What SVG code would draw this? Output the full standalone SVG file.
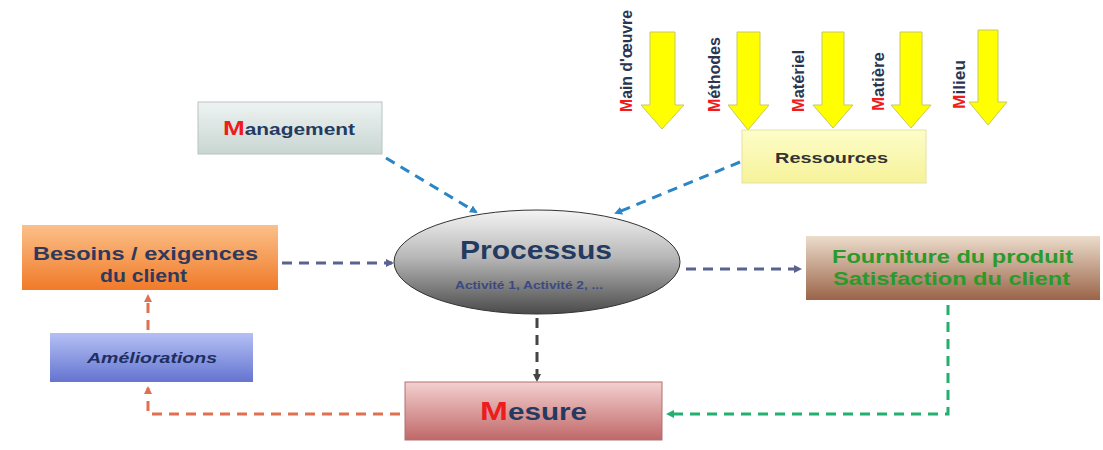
<svg xmlns="http://www.w3.org/2000/svg" width="1103" height="450" viewBox="0 0 1103 450">
<style>
text{font-family:"Liberation Sans",Arial,sans-serif;font-weight:bold}
.navy{fill:#243a60}
.red{fill:#ee1c1c}
.dash{fill:none;stroke-width:3;stroke-dasharray:10,7}
.yarrow{fill:#ffff00;stroke:#c8c860;stroke-width:1}
.vlabel{font-size:16px;fill:#2a3550}
</style>
<defs>
<linearGradient id="gMan" x1="0" y1="0" x2="0" y2="1"><stop offset="0" stop-color="#eef3f2"/><stop offset="1" stop-color="#c8d6d2"/></linearGradient>
<linearGradient id="gRes" x1="0" y1="0" x2="0" y2="1"><stop offset="0" stop-color="#fdfdc8"/><stop offset="1" stop-color="#f6f29a"/></linearGradient>
<linearGradient id="gBes" x1="0" y1="0" x2="0" y2="1"><stop offset="0" stop-color="#fbc08a"/><stop offset="1" stop-color="#f07a28"/></linearGradient>
<linearGradient id="gAme" x1="0" y1="0" x2="0" y2="1"><stop offset="0" stop-color="#b4c0f4"/><stop offset="1" stop-color="#6474d0"/></linearGradient>
<linearGradient id="gFou" x1="0" y1="0" x2="0" y2="1"><stop offset="0" stop-color="#ecdccc"/><stop offset="1" stop-color="#9a6448"/></linearGradient>
<linearGradient id="gMes" x1="0" y1="0" x2="0" y2="1"><stop offset="0" stop-color="#f4d0d0"/><stop offset="1" stop-color="#c06868"/></linearGradient>
<linearGradient id="gPro" x1="0" y1="0" x2="0" y2="1"><stop offset="0" stop-color="#f4f4f4"/><stop offset="0.45" stop-color="#b8b8b8"/><stop offset="1" stop-color="#4a4a4a"/></linearGradient>
<marker id="aBlue" markerWidth="8" markerHeight="8" refX="6" refY="4" orient="auto" markerUnits="userSpaceOnUse"><path d="M0,0 L8,4 L0,8 z" fill="#2a86c4"/></marker>
<marker id="aGrey" markerWidth="8" markerHeight="8" refX="6" refY="4" orient="auto" markerUnits="userSpaceOnUse"><path d="M0,0 L8,4 L0,8 z" fill="#5a6290"/></marker>
<marker id="aDark" markerWidth="8" markerHeight="8" refX="6" refY="4" orient="auto" markerUnits="userSpaceOnUse"><path d="M0,0 L8,4 L0,8 z" fill="#444"/></marker>
<marker id="aGreen" markerWidth="8" markerHeight="8" refX="6" refY="4" orient="auto" markerUnits="userSpaceOnUse"><path d="M0,0 L8,4 L0,8 z" fill="#22b070"/></marker>
<marker id="aOrange" markerWidth="8" markerHeight="8" refX="6" refY="4" orient="auto" markerUnits="userSpaceOnUse"><path d="M0,0 L8,4 L0,8 z" fill="#e07050"/></marker>
</defs>
<rect width="1103" height="450" fill="#ffffff"/>

<g id="connectors">
<path class="dash" stroke="#2a86c4" d="M386,158 L476,212" marker-end="url(#aBlue)"/>
<path class="dash" stroke="#2a86c4" d="M740,162 L616,213" marker-end="url(#aBlue)"/>
<path class="dash" stroke="#5a6290" d="M282,263 L392,263" marker-end="url(#aGrey)"/>
<path class="dash" stroke="#5a6290" d="M686,269 L800,269" marker-end="url(#aGrey)"/>
<path class="dash" stroke="#444" d="M537,318 L537,380" marker-end="url(#aDark)"/>
<path class="dash" stroke="#22b070" d="M948,305 L948,414 L668,414" marker-end="url(#aGreen)"/>
<path class="dash" stroke="#e07050" d="M400,414 L148,414 L148,388" marker-end="url(#aOrange)"/>
<path class="dash" stroke="#e07050" d="M148,330 L148,296" marker-end="url(#aOrange)"/>
</g>

<g id="resource-arrows">
<polygon class="yarrow" points="650,32 675,32 675,105 684,105 662,129 641,105 650,105"/>
<polygon class="yarrow" points="737,32 760,32 760,105 769,105 748,130 728,105 737,105"/>
<polygon class="yarrow" points="822,32 844,32 844,105 853,105 833,128 813,105 822,105"/>
<polygon class="yarrow" points="900,32 922,32 922,105 931,105 911,128 891,105 900,105"/>
<polygon class="yarrow" points="978,30 998,30 998,102 1007,102 988,125 969,102 978,102"/>
<text class="vlabel" transform="translate(632,112) rotate(-90)" textLength="102" lengthAdjust="spacingAndGlyphs"><tspan class="red">M</tspan>ain d'œuvre</text>
<text class="vlabel" transform="translate(720,112) rotate(-90)" textLength="75" lengthAdjust="spacingAndGlyphs"><tspan class="red">M</tspan>éthodes</text>
<text class="vlabel" transform="translate(804,112) rotate(-90)" textLength="62" lengthAdjust="spacingAndGlyphs"><tspan class="red">M</tspan>atériel</text>
<text class="vlabel" transform="translate(884,111) rotate(-90)" textLength="59" lengthAdjust="spacingAndGlyphs"><tspan class="red">M</tspan>atière</text>
<text class="vlabel" transform="translate(965,109) rotate(-90)" textLength="49" lengthAdjust="spacingAndGlyphs"><tspan class="red">M</tspan>ilieu</text>
</g>

<g id="management">
<rect x="198" y="102" width="184" height="52" fill="url(#gMan)" stroke="#b8c4c2" stroke-width="1"/>
<text x="223" y="135" font-size="16" class="navy" textLength="132" lengthAdjust="spacingAndGlyphs"><tspan class="red" font-size="20">M</tspan>anagement</text>
</g>

<g id="ressources">
<rect x="742" y="130" width="184" height="53" fill="url(#gRes)" stroke="#e6e2a0" stroke-width="1"/>
<text x="775" y="163" font-size="15" fill="#333" textLength="113" lengthAdjust="spacingAndGlyphs">Ressources</text>
</g>

<g id="processus">
<ellipse cx="537" cy="262" rx="143" ry="52" fill="url(#gPro)" stroke="#333" stroke-width="1"/>
<text x="460" y="259" font-size="25" class="navy" textLength="152" lengthAdjust="spacingAndGlyphs">Processus</text>
<text x="455" y="289" font-size="10" fill="#3a4a80" textLength="148" lengthAdjust="spacingAndGlyphs">Activité 1, Activité 2, ...</text>
</g>

<g id="besoins">
<rect x="22" y="225" width="256" height="65" fill="url(#gBes)"/>
<text x="33" y="260" font-size="19" fill="#2e3a5c" textLength="225" lengthAdjust="spacingAndGlyphs">Besoins / exigences</text>
<text x="100" y="282" font-size="19" fill="#2e3a5c" textLength="87" lengthAdjust="spacingAndGlyphs">du client</text>
</g>

<g id="ameliorations">
<rect x="50" y="333" width="203" height="49" fill="url(#gAme)"/>
<text x="87" y="363" font-size="14" font-style="italic" fill="#1e2e60" textLength="130" lengthAdjust="spacingAndGlyphs">Améliorations</text>
</g>

<g id="fourniture">
<rect x="806" y="236" width="294" height="64" fill="url(#gFou)"/>
<text x="832" y="263" font-size="18" fill="#2a9a2a" textLength="241" lengthAdjust="spacingAndGlyphs">Fourniture du produit</text>
<text x="833" y="285" font-size="18" fill="#2a9a2a" textLength="237" lengthAdjust="spacingAndGlyphs">Satisfaction du client</text>
</g>

<g id="mesure">
<rect x="405" y="382" width="257" height="58" fill="url(#gMes)" stroke="#b07070" stroke-width="1"/>
<text x="480" y="420" font-size="23" class="navy" textLength="107" lengthAdjust="spacingAndGlyphs"><tspan class="red" font-size="26">M</tspan>esure</text>
</g>
</svg>
